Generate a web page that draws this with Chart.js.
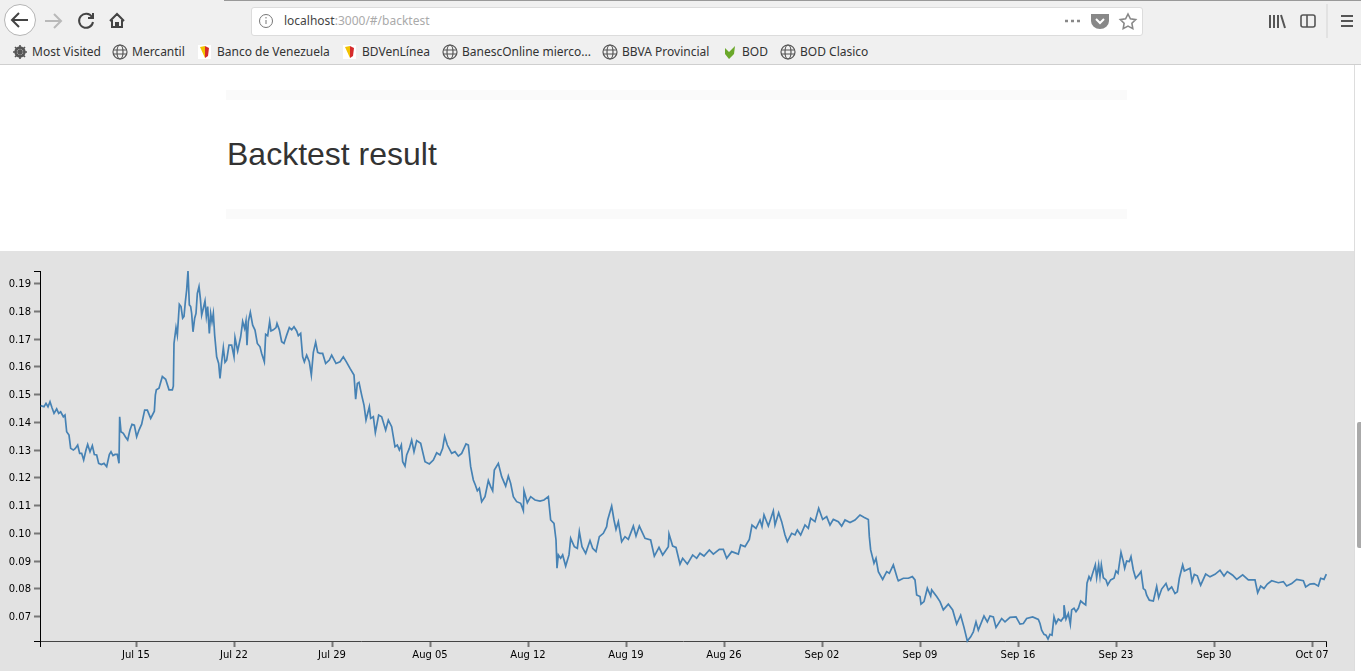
<!DOCTYPE html>
<html>
<head>
<meta charset="utf-8">
<title>Backtest result</title>
<script src="https://cdn.jsdelivr.net/npm/chart.js@4/dist/chart.umd.min.js"></script>
<style>
  html, body { margin: 0; padding: 0; background: #fff; overflow: hidden; }
  body { width: 1361px; height: 671px; position: relative; font-family: "Noto Sans", sans-serif; }
  .abs { position: absolute; }
  #toolbar { left: 0; top: 0; width: 1361px; height: 64px; background: #f0f0f0; border-bottom: 1px solid #cfcfcf; }
  #tabline { left: 224px; top: 0; width: 1137px; height: 1px; background: #999; }
  #urlbar { left: 251px; top: 7px; width: 890px; height: 27px; background: #fff; border: 1px solid #dcdcdc; border-radius: 3px; }
  #url { left: 284px; top: 12px; font-size: 12px; line-height: 18px; color: #aaa; }
  #url b { font-weight: normal; color: #444; }
  .bm { top: 43px; font-size: 12px; line-height: 17px; color: #333; white-space: nowrap; }
  .band { left: 226px; width: 901px; height: 10px; background: #fafafa; }
  h2 { position: absolute; left: 227px; top: 134px; margin: 0; font: 32px/40px "Liberation Sans", sans-serif; color: #333; }
  #panel { left: 0; top: 251px; width: 1354px; height: 420px; background: #e2e2e2; }
  #sbline { left: 1354px; top: 65px; width: 1px; height: 606px; background: #ddd; }
  #thumb { left: 1357px; top: 422px; width: 4px; height: 126px; background: #aaa; border-radius: 2px 0 0 2px; }
  svg.abs { overflow: visible; }
</style>
</head>
<body>
<div id="toolbar" class="abs"></div>
<div id="tabline" class="abs"></div>
<div id="urlbar" class="abs"></div>
<div id="url" class="abs"><b>localhost</b>:3000/#/backtest</div>

<svg class="abs" style="left:0;top:0" width="1361" height="65" fill="none" stroke="#444" stroke-width="2">
  <circle cx="20" cy="20" r="15.5" fill="#fff" stroke="#b5b5b5" stroke-width="1"/>
  <path d="M12 20h16M19 13l-7 7 7 7"/>
  <path d="M45 21h16M54 14l7 7-7 7" stroke="#b9b9b9"/>
  <path d="M92 17a7 7 0 1 0 1 5M93 13v5h-5"/>
  <path d="M110 21l7-7 7 7M112 20v7h10v-7M116 27v-4h2v4"/>
  <circle cx="266" cy="21" r="6.5" stroke="#777" stroke-width="1"/>
  <path d="M266 20v4M266 17v1.5" stroke="#777" stroke-width="1"/>
  <path d="M1065 21h3M1071 21h3M1077 21h3" stroke="#888" stroke-width="2.5"/>
  <path d="M1092 15h16v6a8 7 0 0 1-16 0z" fill="#888" stroke="#888"/>
  <path d="M1096 19l4 4 4-4" stroke="#fff"/>
  <path d="M1128 14l2.4 4.8 5.3.8-3.8 3.7.9 5.3-4.8-2.5-4.8 2.5.9-5.3-3.8-3.7 5.3-.8z" stroke="#888" stroke-width="1.6"/>
  <path d="M1270 15v13M1274 15v13M1278 15v13M1281 15l4 13" stroke="#555"/>
  <rect x="1301" y="15" width="14" height="12" rx="2" stroke="#555" stroke-width="1.6"/>
  <path d="M1307 15v12" stroke="#555" stroke-width="1.6"/>
  <path d="M1327 4v34" stroke="#d4d4d4" stroke-width="1"/>
  <path d="M1341 16h12M1341 21h12M1341 26h12" stroke="#555"/>
  <g stroke="#555" stroke-width="1.2">
    <circle cx="20" cy="52" r="4.5" stroke-width="2.4"/>
    <path d="M20 45v14M13 52h14M15 47l10 10M25 47l-10 10" stroke-width="1.6"/>
    <g id="globes">
      <circle cx="120" cy="52" r="7"/><ellipse cx="120" cy="52" rx="3" ry="7"/><path d="M113 50h14M113 54h14"/>
      <circle cx="450" cy="52" r="7"/><ellipse cx="450" cy="52" rx="3" ry="7"/><path d="M443 50h14M443 54h14"/>
      <circle cx="610" cy="52" r="7"/><ellipse cx="610" cy="52" rx="3" ry="7"/><path d="M603 50h14M603 54h14"/>
      <circle cx="788" cy="52" r="7"/><ellipse cx="788" cy="52" rx="3" ry="7"/><path d="M781 50h14M781 54h14"/>
    </g>
  </g>
  <rect x="198" y="45" width="13" height="14" fill="#fff" stroke="none"/>
  <path d="M200 47l5-1v12z" fill="#f2c200" stroke="none"/><path d="M205 46l4 2-1 8-3 2z" fill="#d62b2b" stroke="none"/>
  <rect x="343" y="45" width="13" height="14" fill="#fff" stroke="none"/>
  <path d="M345 47l5-1v12z" fill="#f2c200" stroke="none"/><path d="M350 46l4 2-1 8-3 2z" fill="#d62b2b" stroke="none"/>
  <path d="M725 48l4 4 6-6-1 8-5 5-4-5z" fill="#6aa82a" stroke="none"/>
</svg>

<div class="abs bm" style="left:32px">Most Visited</div>
<div class="abs bm" style="left:132px">Mercantil</div>
<div class="abs bm" style="left:217px">Banco de Venezuela</div>
<div class="abs bm" style="left:362px">BDVenLínea</div>
<div class="abs bm" style="left:462px">BanescOnline mierco...</div>
<div class="abs bm" style="left:622px">BBVA Provincial</div>
<div class="abs bm" style="left:742px">BOD</div>
<div class="abs bm" style="left:800px">BOD Clasico</div>

<div class="abs band" style="top:90px"></div>
<h2>Backtest result</h2>
<div class="abs band" style="top:209px"></div>

<div id="panel" class="abs"><canvas id="chart" width="1354" height="420"></canvas></div>
<div id="sbline" class="abs"></div>
<div id="thumb" class="abs"></div>

<script>
// samples are numbered in steps of 1/42 day from the start of the backtest
const sampleIndex = [
  0, 10, 16, 22, 28, 34, 40, 48, 54, 60, 68, 73,
  78, 85, 90, 98, 104, 111, 117, 123, 129, 136, 141, 148,
  155, 161, 168, 174, 182, 190, 198, 206, 211, 217, 223, 230,
  235, 237, 241, 248, 254, 261, 268, 274, 281, 288, 295, 303,
  312, 320, 330, 341, 344, 347, 355, 365, 375, 385, 395, 398,
  400, 406, 410, 416, 421, 426, 430, 434, 438, 442, 446, 450,
  453, 457, 462, 466, 470, 475, 479, 483, 488, 493, 497, 501,
  506, 510, 514, 518, 522, 528, 534, 538, 543, 548, 553, 558,
  565, 573, 580, 583, 591, 600, 606, 612, 616, 619, 623, 629,
  636, 643, 650, 658, 663, 671, 675, 681, 687, 691, 698, 706,
  709, 716, 723, 730, 738, 746, 753, 760, 768, 773, 780, 786,
  791, 798, 806, 812, 818, 825, 831, 838, 846, 855, 866, 873,
  886, 898, 908, 918, 928,
  940, 945, 950, 955, 963, 970, 976, 986, 990, 998, 1004, 1014,
  1023, 1035, 1043, 1053, 1063, 1070, 1076, 1082, 1086, 1093, 1098, 1106,
  1113, 1120, 1128, 1140, 1153, 1166, 1178, 1188, 1198, 1206, 1212, 1220,
  1233, 1243, 1253, 1263, 1276, 1283, 1290, 1298, 1304, 1310, 1316, 1323,
  1333, 1343, 1350, 1356, 1361, 1373, 1383, 1395, 1403, 1410, 1418, 1428,
  1440, 1448, 1450, 1460, 1470, 1483, 1498, 1510, 1523, 1530, 1540, 1546,
  1549, 1553, 1560, 1566, 1575, 1585, 1590, 1601, 1610, 1616, 1624, 1635,
  1648, 1656, 1666, 1676, 1688, 1698, 1701, 1713, 1720, 1726, 1733, 1743,
  1753, 1763, 1778, 1786, 1796, 1813, 1830, 1841, 1855, 1866, 1883, 1885,
  1896, 1906, 1918, 1926, 1940, 1956, 1968, 1978, 1990, 2006, 2018, 2036,
  2048, 2058, 2073, 2093, 2100, 2113, 2126, 2134, 2146, 2158, 2164, 2170,
  2183, 2198, 2203, 2214, 2223, 2233, 2240, 2253, 2263, 2270, 2280, 2293,
  2303, 2310, 2323, 2334, 2346, 2358, 2368, 2378, 2393, 2403, 2413, 2428,
  2443, 2458, 2471, 2483, 2486, 2490, 2500, 2506, 2513, 2526, 2538, 2546,
  2558, 2570, 2573, 2588, 2603, 2615, 2623, 2628, 2638, 2641, 2650, 2660,
  2670, 2673, 2688, 2698, 2708, 2723, 2736, 2748, 2760, 2770, 2780, 2790,
  2798, 2806, 2813, 2830, 2840, 2848, 2858, 2866, 2883, 2893, 2908, 2926,
  2938, 2948, 2958, 2976, 2993,
  2998, 3003, 3010, 3016, 3022, 3028, 3034, 3040, 3046, 3053, 3061, 3068,
  3070, 3076, 3083, 3089, 3093, 3100, 3106, 3113, 3120, 3128, 3135, 3139,
  3145, 3150, 3156, 3164, 3168, 3174, 3178, 3182, 3188, 3196, 3201, 3210,
  3220, 3226, 3232, 3241, 3248, 3252, 3258, 3266, 3271, 3278, 3285, 3294,
  3301, 3308, 3314, 3318, 3326, 3338, 3348, 3354, 3363, 3376, 3383, 3393,
  3403, 3410, 3416, 3426, 3431, 3448, 3454, 3461, 3470, 3476,
  3480, 3495, 3508, 3523, 3538, 3550,
  3560, 3576, 3588, 3606, 3623, 3643, 3651, 3660, 3670, 3680, 3693, 3713,
  3728, 3738, 3753, 3768, 3788, 3795, 3808, 3820, 3833, 3840, 3850, 3857
];

const prices = [
  .1460, .1456, .1468, .1456, .1474, .1452, .1432, .1448, .1432, .1438, .1420, .1426,
  .1366, .1354, .1306, .1300, .1306, .1318, .1288, .1288, .1264, .1300, .1320, .1294,
  .1316, .1284, .1282, .1252, .1248, .1252, .1240, .1284, .1294, .1280, .1284, .1284,
  .1252, .1420, .1366, .1360, .1348, .1336, .1372, .1393, .1390, .1348, .1372, .1393,
  .1444, .1444, .1414, .1440, .1498, .1517, .1523, .1565, .1555, .1517, .1517, .1530,
  .1684, .1741, .1714, .1825, .1817, .1775, .1781, .1834, .1877, .1945, .1823, .1817,
  .1792, .1726, .1775, .1792, .1864, .1889, .1847, .1786, .1811, .1837, .1781, .1817,
  .1720, .1792, .1762, .1792, .1714, .1636, .1612, .1558, .1618, .1669, .1616, .1624,
  .1678, .1678, .1636, .1705, .1657, .1708, .1763, .1738, .1765, .1678, .1763, .1796,
  .1750, .1732, .1684, .1672, .1648, .1618, .1717, .1712, .1763, .1729, .1733, .1741,
  .1756, .1733, .1690, .1684, .1714, .1741, .1733, .1744, .1729, .1712, .1720, .1636,
  .1618, .1642, .1618, .1570, .1652, .1688, .1652, .1648, .1648, .1612, .1624, .1642,
  .1612, .1618, .1636, .1616, .1594,
  .1570, .1483, .1540, .1544, .1498, .1462, .1408, .1456, .1414, .1420, .1363, .1426,
  .1420, .1372, .1408, .1384, .1312, .1318, .1300, .1318, .1258, .1242, .1282, .1306,
  .1336, .1294, .1334, .1324, .1258, .1250, .1264, .1290, .1282, .1306, .1350, .1318,
  .1288, .1294, .1278, .1288, .1322, .1318, .1240, .1192, .1174, .1153, .1162, .1114,
  .1132, .1190, .1168, .1153, .1228, .1252, .1204, .1170, .1206, .1180, .1132, .1114,
  .1108, .1082, .1153, .1110, .1132, .1120, .1116, .1120, .1132, .1048, .1036, .0976,
  .0874, .0922, .0910, .0922, .0882, .0922, .0982, .0952, .0946, .1006, .0952, .0928,
  .0974, .0946, .0934, .0988, .1000, .1024, .1048, .1098, .1048, .1014, .1042, .0970,
  .0988, .0978, .1026, .0990, .1026, .0982, .0976, .0918, .0949, .0922, .0952, .0998,
  .0954, .0949, .0889, .0910, .0889, .0922, .0910, .0928, .0918, .0940, .0925, .0942,
  .0942, .0910, .0934, .0925, .0958, .0952, .0978, .1030, .1018, .1048, .1024, .1066,
  .1026, .1081, .1030, .1074, .1042, .0994, .0970, .1000, .0994, .1012, .0994, .1030,
  .1018, .1054, .1042, .1090, .1050, .1060, .1030, .1050, .1042, .1026, .1048, .1039,
  .1048, .1066, .1057, .1050, .0988, .0940, .0892, .0910, .0862, .0834, .0862, .0856,
  .0886, .0838, .0829, .0838, .0838, .0844, .0832, .0778, .0772, .0745, .0754, .0802,
  .0774, .0796, .0772, .0754, .0724, .0745, .0724, .0673, .0705, .0661, .0612, .0627,
  .0645, .0681, .0651, .0702, .0681, .0702, .0699, .0661, .0693, .0681, .0697, .0699,
  .0673, .0675, .0693, .0699, .0690,
  .0675, .0651, .0636, .0633, .0619, .0636, .0633, .0699, .0675, .0691, .0684, .0696,
  .0741, .0691, .0711, .0672, .0724, .0730, .0718, .0730, .0756, .0748, .0742, .0820,
  .0844, .0832, .0856, .0886, .0840, .0886, .0844, .0886, .0840, .0832, .0814, .0832,
  .0838, .0864, .0856, .0931, .0898, .0874, .0900, .0898, .0916, .0868, .0838, .0850,
  .0862, .0801, .0795, .0777, .0759, .0756, .0808, .0768, .0799, .0819, .0795, .0807,
  .0783, .0789, .0838, .0886, .0864, .0874, .0826, .0852, .0847, .0826,
  .0813, .0853, .0843, .0852, .0867, .0846,
  .0862, .0849, .0834, .0850, .0832, .0832, .0786, .0810, .0801, .0817, .0829, .0822,
  .0826, .0810, .0819, .0834, .0829, .0807, .0817, .0819, .0810, .0838, .0834, .0853
];

const dateLabels = ['Jul 15', 'Jul 22', 'Jul 29', 'Aug 05', 'Aug 12', 'Aug 19', 'Aug 26',
  'Sep 02', 'Sep 09', 'Sep 16', 'Sep 23', 'Sep 30', 'Oct 07'];
const priceLabels = ['0.07', '0.08', '0.09', '0.10', '0.11', '0.12', '0.13', '0.14',
  '0.15', '0.16', '0.17', '0.18', '0.19'];

const DAY = 86400000;
const sampleStep = DAY / 42;
const firstTick = Date.UTC(2019, 6, 15);
const dataStart = firstTick - 286 * sampleStep;
const xMin = firstTick - 288 * sampleStep;
const xMax = xMin + 3858 * sampleStep;
const yMin = 0.0612;
const yMax = 0.1945;

const dateTicks = dateLabels.map((label, i) => firstTick + i * 7 * DAY);
const priceTicks = priceLabels.map(Number);

const points = sampleIndex.map((n, i) => ({ x: dataStart + n * sampleStep, y: prices[i] }));

const tickFont = { family: '"DejaVu Sans", sans-serif', size: 10 };

// d3 style ticks: the ends of each axis get a tick too, without a label
const isEnd = (ctx) => ctx.tick && (ctx.tick.value === xMin || ctx.tick.value === xMax || ctx.tick.value === yMin || ctx.tick.value === yMax);

new Chart(document.getElementById('chart'), {
  type: 'line',
  data: {
    datasets: [{
      data: points,
      borderColor: '#4682b4',
      borderWidth: 1.7,
      pointRadius: 0,
      tension: 0,
      fill: false,
      clip: false,
    }],
  },
  options: {
    responsive: false,
    animation: false,
    events: [],
    layout: { padding: { top: 20, right: 28, left: 0, bottom: 0 } },
    plugins: { legend: { display: false }, tooltip: { enabled: false } },
    scales: {
      x: {
        type: 'linear',
        min: xMin,
        max: xMax,
        afterBuildTicks: (scale) => {
          scale.ticks = [xMin, ...dateTicks, xMax].map((value) => ({ value }));
        },
        afterFit: (scale) => { scale.height = 30; },
        border: { color: '#444', width: 1 },
        grid: {
          drawOnChartArea: false,
          tickLength: 6,
          tickColor: (ctx) => (isEnd(ctx) ? '#000' : '#777'),
          tickWidth: (ctx) => (isEnd(ctx) ? 1 : 2),
        },
        ticks: {
          autoSkip: false,
          maxRotation: 0,
          padding: 2,
          color: '#000',
          font: tickFont,
          callback: (value) => {
            const i = dateTicks.indexOf(value);
            return i >= 0 ? dateLabels[i] : '';
          },
        },
      },
      y: {
        type: 'linear',
        min: yMin,
        max: yMax,
        afterBuildTicks: (scale) => {
          scale.ticks = [yMin, ...priceTicks, yMax].map((value) => ({ value }));
        },
        afterFit: (scale) => { scale.width = 40; },
        border: { color: '#000', width: 1 },
        grid: {
          drawOnChartArea: false,
          tickLength: 6,
          tickColor: (ctx) => (isEnd(ctx) ? '#000' : '#777'),
          tickWidth: (ctx) => (isEnd(ctx) ? 1 : 2),
        },
        ticks: {
          autoSkip: false,
          padding: 3,
          labelOffset: 1,
          color: '#000',
          font: tickFont,
          callback: (value) => {
            const i = priceTicks.indexOf(value);
            return i >= 0 ? priceLabels[i] : '';
          },
        },
      },
    },
  },
});
</script>
</body>
</html>
